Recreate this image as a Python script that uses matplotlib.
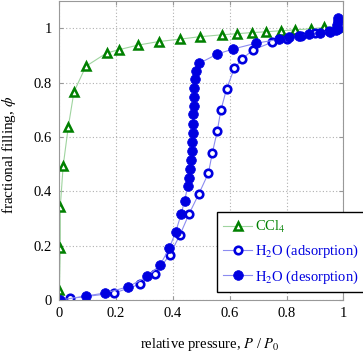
import matplotlib
matplotlib.use("Agg")
import matplotlib.pyplot as plt

plt.rcParams["font.family"] = ["Liberation Serif", "DejaVu Serif"]
plt.rcParams["mathtext.fontset"] = "stix"

# CCl4 isotherm
ccl4_x = [0.0, 0.001, 0.004, 0.004, 0.014, 0.032, 0.052, 0.094, 0.167, 0.21,
          0.277, 0.35, 0.425, 0.496, 0.574, 0.625, 0.677, 0.728, 0.781, 0.83,
          0.885, 0.933, 0.98]
ccl4_y = [0.0, 0.038, 0.192, 0.344, 0.493, 0.637, 0.766, 0.86, 0.909, 0.921,
          0.938, 0.951, 0.96, 0.969, 0.976, 0.98, 0.984, 0.987, 0.991, 0.994,
          0.998, 1.003, 1.006]

# water, adsorption branch
ads_x = [0.0, 0.038, 0.194, 0.283, 0.337, 0.389, 0.425, 0.457, 0.492, 0.525,
         0.539, 0.556, 0.569, 0.589, 0.616, 0.644, 0.681, 0.748, 0.80, 0.85,
         0.90, 0.95, 0.98]
ads_y = [0.0, 0.006, 0.026, 0.058, 0.095, 0.166, 0.24, 0.317, 0.392, 0.467,
         0.542, 0.621, 0.699, 0.777, 0.852, 0.887, 0.92, 0.948, 0.962, 0.972,
         0.981, 0.99, 0.998]

# water, desorption branch
des_x = [0.98, 0.98, 0.978, 0.975, 0.952, 0.917, 0.878, 0.843, 0.808, 0.772,
         0.693, 0.613, 0.556, 0.493, 0.481, 0.478, 0.476, 0.475, 0.474, 0.472,
         0.471, 0.47, 0.469, 0.466, 0.464, 0.46, 0.456, 0.452, 0.441, 0.429,
         0.41, 0.387, 0.355, 0.31, 0.243, 0.161, 0.093, 0.003]
des_y = [1.037, 1.025, 1.012, 0.995, 0.987, 0.984, 0.979, 0.972, 0.967, 0.959,
         0.945, 0.924, 0.905, 0.871, 0.842, 0.812, 0.782, 0.748, 0.714, 0.683,
         0.647, 0.615, 0.582, 0.547, 0.514, 0.481, 0.449, 0.418, 0.364, 0.316,
         0.251, 0.19, 0.129, 0.087, 0.049, 0.026, 0.015, 0.0]

green = "#008000"
blue = "#0000e0"

fig = plt.figure(figsize=(3.63, 3.56), dpi=100)
ax = fig.add_axes([0.163, 0.157, 0.783, 0.84])

ax.plot(ccl4_x, ccl4_y, color="#9fd49f", lw=0.8,
        marker="^", ms=6, mfc="white", mec=green, mew=1.8,
        label="CCl$_4$")
ax.plot(ads_x, ads_y, color="#8c8cf0", lw=0.8,
        marker="o", ms=5.4, mfc="white", mec=blue, mew=1.9,
        label="H$_2$O (adsorption)")
ax.plot(des_x, des_y, color="#8c8cf0", lw=0.8,
        marker="o", ms=7, mfc=blue, mec=blue, mew=0.5,
        label="H$_2$O (desorption)")

ax.set_xlim(0, 1)
ax.set_ylim(0, 1.1)
ax.set_xticks([0, 0.2, 0.4, 0.6, 0.8, 1])
ax.set_xticklabels(["0", "0.2", "0.4", "0.6", "0.8", "1"])
ax.set_yticks([0, 0.2, 0.4, 0.6, 0.8, 1])
ax.set_yticklabels(["0", "0.2", "0.4", "0.6", "0.8", "1"])
ax.grid(True, color="#b0b0b0", ls=(0, (1, 2)), lw=0.8)
ax.tick_params(direction="in", top=True, right=True, length=3,
               color="#999999", labelsize=10.5, pad=5)
for s in ax.spines.values():
    s.set_color("#999999")
    s.set_linewidth(0.8)

ax.set_xlabel("relative pressure, $P$ / $P_0$", fontsize=10.5)
ax.xaxis.set_label_coords(0.53, -0.12)
ax.set_ylabel("fractional filling, $\\phi$", fontsize=11)
ax.yaxis.set_label_coords(-0.145, 0.485)

leg = ax.legend(loc="lower left", bbox_to_anchor=(0.554, 0.026),
                borderaxespad=0, fancybox=False, framealpha=1,
                edgecolor="black", fontsize=10.5, handlelength=2.0,
                handletextpad=0.2, labelspacing=0.55, borderpad=0.45)
leg.get_frame().set_linewidth(1.0)
for txt, c in zip(leg.get_texts(), [green, blue, blue]):
    txt.set_color(c)

fig.savefig("out.png", dpi=100)
